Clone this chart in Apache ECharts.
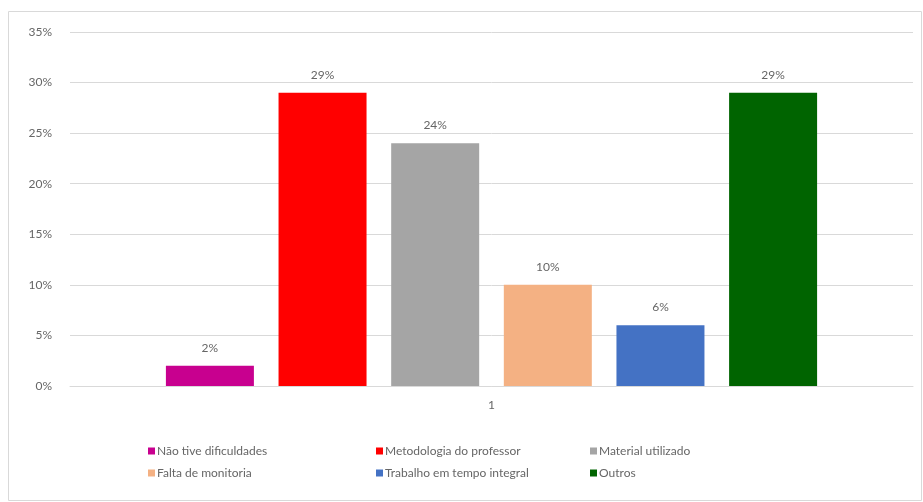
<!DOCTYPE html>
<html>
<head>
<meta charset="utf-8">
<script src="https://cdn.jsdelivr.net/npm/echarts@6/dist/echarts.min.js"></script>
<style>
  html, body { margin: 0; padding: 0; background: #fff; }
  #main { width: 923px; height: 502px; }
</style>
</head>
<body>
<div id="main"></div>
<script>
// dados do gráfico
const categories = ['1'];
const seriesNames = ['Não tive dificuldades', 'Metodologia do professor', 'Material utilizado',
                     'Falta de monitoria', 'Trabalho em tempo integral', 'Outros'];
const seriesValues = [2, 29, 24, 10, 6, 29];
const seriesColors = ['#C8008F', '#FF0000', '#A5A5A5', '#F4B183', '#4472C4', '#006400'];

const myChart = echarts.init(document.getElementById('main'));
const font = 'Lato, "Open Sans", sans-serif';
const textColor = '#666666';

const series = seriesNames.map((name, i) => ({
    name: name,
    type: 'bar',
    data: [seriesValues[i]],
    barWidth: 88,
    barGap: '28%',
    itemStyle: { color: seriesColors[i] },
    label: {
        show: true,
        position: 'top',
        distance: 12,
        formatter: '{c}%',
        color: textColor,
        fontSize: 12,
        fontFamily: font
    }
}));

const legendBase = {
    orient: 'vertical',
    top: 440,
    itemWidth: 7,
    itemHeight: 7,
    itemGap: 10,
    icon: 'rect',
    textStyle: { color: textColor, fontSize: 12, fontFamily: font, padding: [0, 0, 0, -3] }
};

const option = {
    animation: false,
    graphic: [{
        type: 'rect',
        shape: { x: 8.5, y: 11.5, width: 913, height: 489 },
        style: { fill: 'none', stroke: '#d9d9d9', lineWidth: 1 },
        silent: true
    }],
    grid: { left: 70, right: 10, top: 32, bottom: 116 },
    legend: [
        Object.assign({}, legendBase, { left: 143, data: [seriesNames[0], seriesNames[3]] }),
        Object.assign({}, legendBase, { left: 371, data: [seriesNames[1], seriesNames[4]] }),
        Object.assign({}, legendBase, { left: 585, data: [seriesNames[2], seriesNames[5]] })
    ],
    xAxis: {
        type: 'category',
        data: categories,
        axisLine: { lineStyle: { color: '#d9d9d9' } },
        axisTick: { show: false },
        axisLabel: { color: textColor, fontSize: 12, fontFamily: font, margin: 13 }
    },
    yAxis: {
        type: 'value',
        min: 0,
        max: 35,
        interval: 5,
        axisLine: { show: false },
        axisTick: { show: false },
        axisLabel: { formatter: '{value}%', color: textColor, fontSize: 12, fontFamily: font, margin: 18 },
        splitLine: { lineStyle: { color: '#d9d9d9' } }
    },
    series: series
};

myChart.setOption(option);
</script>
</body>
</html>
